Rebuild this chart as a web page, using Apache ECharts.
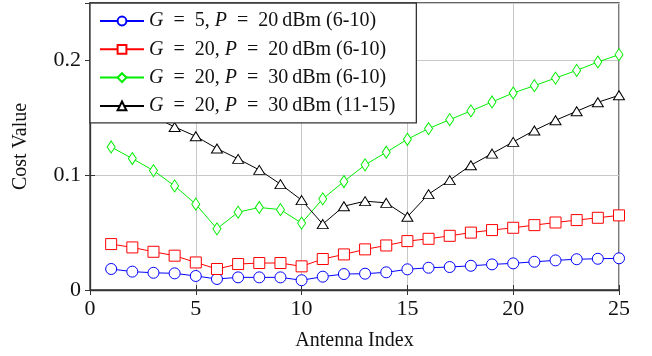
<!DOCTYPE html>
<html><head><meta charset="utf-8">
<script src="https://cdn.jsdelivr.net/npm/echarts@6/dist/echarts.min.js"></script>
<style>html,body{margin:0;padding:0;background:#fff}#c{width:652px;height:356px}</style>
</head><body><div id="c"></div>
<script>
const antennaIndex = [1,2,3,4,5,6,7,8,9,10,11,12,13,14,15,16,17,18,19,20,21,22,23,24,25];
const g5p20 = [0.0183,0.0160,0.0150,0.0145,0.0122,0.0096,0.0110,0.0110,0.0110,0.0085,0.0116,0.0139,0.0142,0.0154,0.0180,0.0194,0.0200,0.0211,0.0223,0.0232,0.0246,0.0258,0.0268,0.0272,0.0276];
const g20p20 = [0.0400,0.0371,0.0333,0.0299,0.0240,0.0183,0.0226,0.0235,0.0235,0.0206,0.0270,0.0310,0.0354,0.0388,0.0426,0.0446,0.0472,0.0500,0.0522,0.0542,0.0565,0.0588,0.0609,0.0629,0.0650];
const g20p30a = [0.1246,0.1145,0.1040,0.0907,0.0748,0.0533,0.0678,0.0719,0.0700,0.0583,0.0794,0.0945,0.1090,0.1200,0.1313,0.1406,0.1484,0.1560,0.1638,0.1716,0.1780,0.1846,0.1913,0.1986,0.2050];
const g20p30b = [0.1690,0.1600,0.1510,0.1420,0.1339,0.1232,0.1142,0.1046,0.0922,0.0783,0.0574,0.0730,0.0774,0.0759,0.0638,0.0835,0.0957,0.1087,0.1188,0.1290,0.1390,0.1478,0.1557,0.1635,0.1696];
const seriesNames = [
  '{i|G}\u2002=\u20025, {i|P}\u2002=\u200220\u2009dBm (6-10)',
  '{i|G}\u2002=\u200220, {i|P}\u2002=\u200220\u2009dBm (6-10)',
  '{i|G}\u2002=\u200220, {i|P}\u2002=\u200230\u2009dBm (6-10)',
  '{i|G}\u2002=\u200220, {i|P}\u2002=\u200230\u2009dBm (11-15)'
];
const xTicks = [0,5,10,15,20,25];
const yTicks = [0,0.1,0.2];

const tnr = '"Liberation Serif","DejaVu Serif",serif';
const chart = echarts.init(document.getElementById('c'));
function pair(arr){ return antennaIndex.map((x,i)=>[x,arr[i]]); }
function mk(name, data, color, symbol, size){
  return {
    name, type:'line', data: pair(data), symbol, symbolSize:size,
    showSymbol:true,
    lineStyle:{color, width:1},
    itemStyle:{color:'#fff', borderColor:color, borderWidth:1},
    emphasis:{disabled:true}, animation:false, z:3
  };
}
const tickStyle = {show:true, inside:true, length:5, lineStyle:{color:'#333', width:1}};
chart.setOption({
  animation:false,
  grid:{left:90, right:33, top:3, bottom:66, show:true, borderColor:'#333', borderWidth:1.3, backgroundColor:'transparent'},
  legend:{
    orient:'vertical', left:90, top:3, padding:[8,21,7,9],
    itemWidth:44, itemHeight:11, itemGap:8.3,
    backgroundColor:'#fff', borderColor:'#333', borderWidth:1.3, borderRadius:0,
    data: seriesNames,
    textStyle:{fontFamily:tnr, fontSize:20, lineHeight:20, color:'#111',
      rich:{i:{fontFamily:tnr, fontStyle:'italic', fontSize:20, lineHeight:20, color:'#111'}}},
    selectedMode:false
  },
  xAxis:[{
    type:'value', min:0, max:25, interval:5,
    name:'Antenna Index', nameLocation:'middle', nameGap:41,
    nameTextStyle:{fontFamily:tnr, fontSize:20, color:'#111'},
    axisLine:{show:true, lineStyle:{color:'#333', width:1.3}},
    axisTick:tickStyle,
    axisLabel:{fontFamily:tnr, fontSize:22, color:'#111', margin:8,
      formatter:v=> xTicks.includes(v) ? String(v) : ''},
    splitLine:{show:true, lineStyle:{color:'#c8c8c8', width:1}}
  },{
    type:'value', min:0, max:25, interval:5, position:'top',
    axisLine:{show:false}, axisTick:tickStyle, axisLabel:{show:false}, splitLine:{show:false}
  }],
  yAxis:[{
    type:'value', min:0, max:0.25, interval:0.1,
    name:'Cost Value', nameLocation:'middle', nameGap:59, nameRotate:90,
    nameTextStyle:{fontFamily:tnr, fontSize:20, color:'#111'},
    axisLine:{show:true, lineStyle:{color:'#333', width:1.3}},
    axisTick:tickStyle,
    axisLabel:{fontFamily:tnr, fontSize:22, color:'#111', margin:9, showMaxLabel:false,
      formatter:v=>{ const t = yTicks.find(k=>Math.abs(k-v)<1e-9); return t===undefined ? '' : String(t); }},
    splitLine:{show:true, lineStyle:{color:'#c8c8c8', width:1}}
  },{
    type:'value', min:0, max:0.25, interval:0.1, position:'right',
    axisLine:{show:false}, axisTick:tickStyle, axisLabel:{show:false}, splitLine:{show:false}
  }],
  series:[
    mk(seriesNames[0], g5p20, '#0000ff', 'circle', 11),
    mk(seriesNames[1], g20p20, '#ff0000', 'rect', 11),
    mk(seriesNames[2], g20p30a, '#00ee00', 'diamond', [8,12]),
    mk(seriesNames[3], g20p30b, '#000000', 'triangle', [11,9])
  ]
});
</script></body></html>
